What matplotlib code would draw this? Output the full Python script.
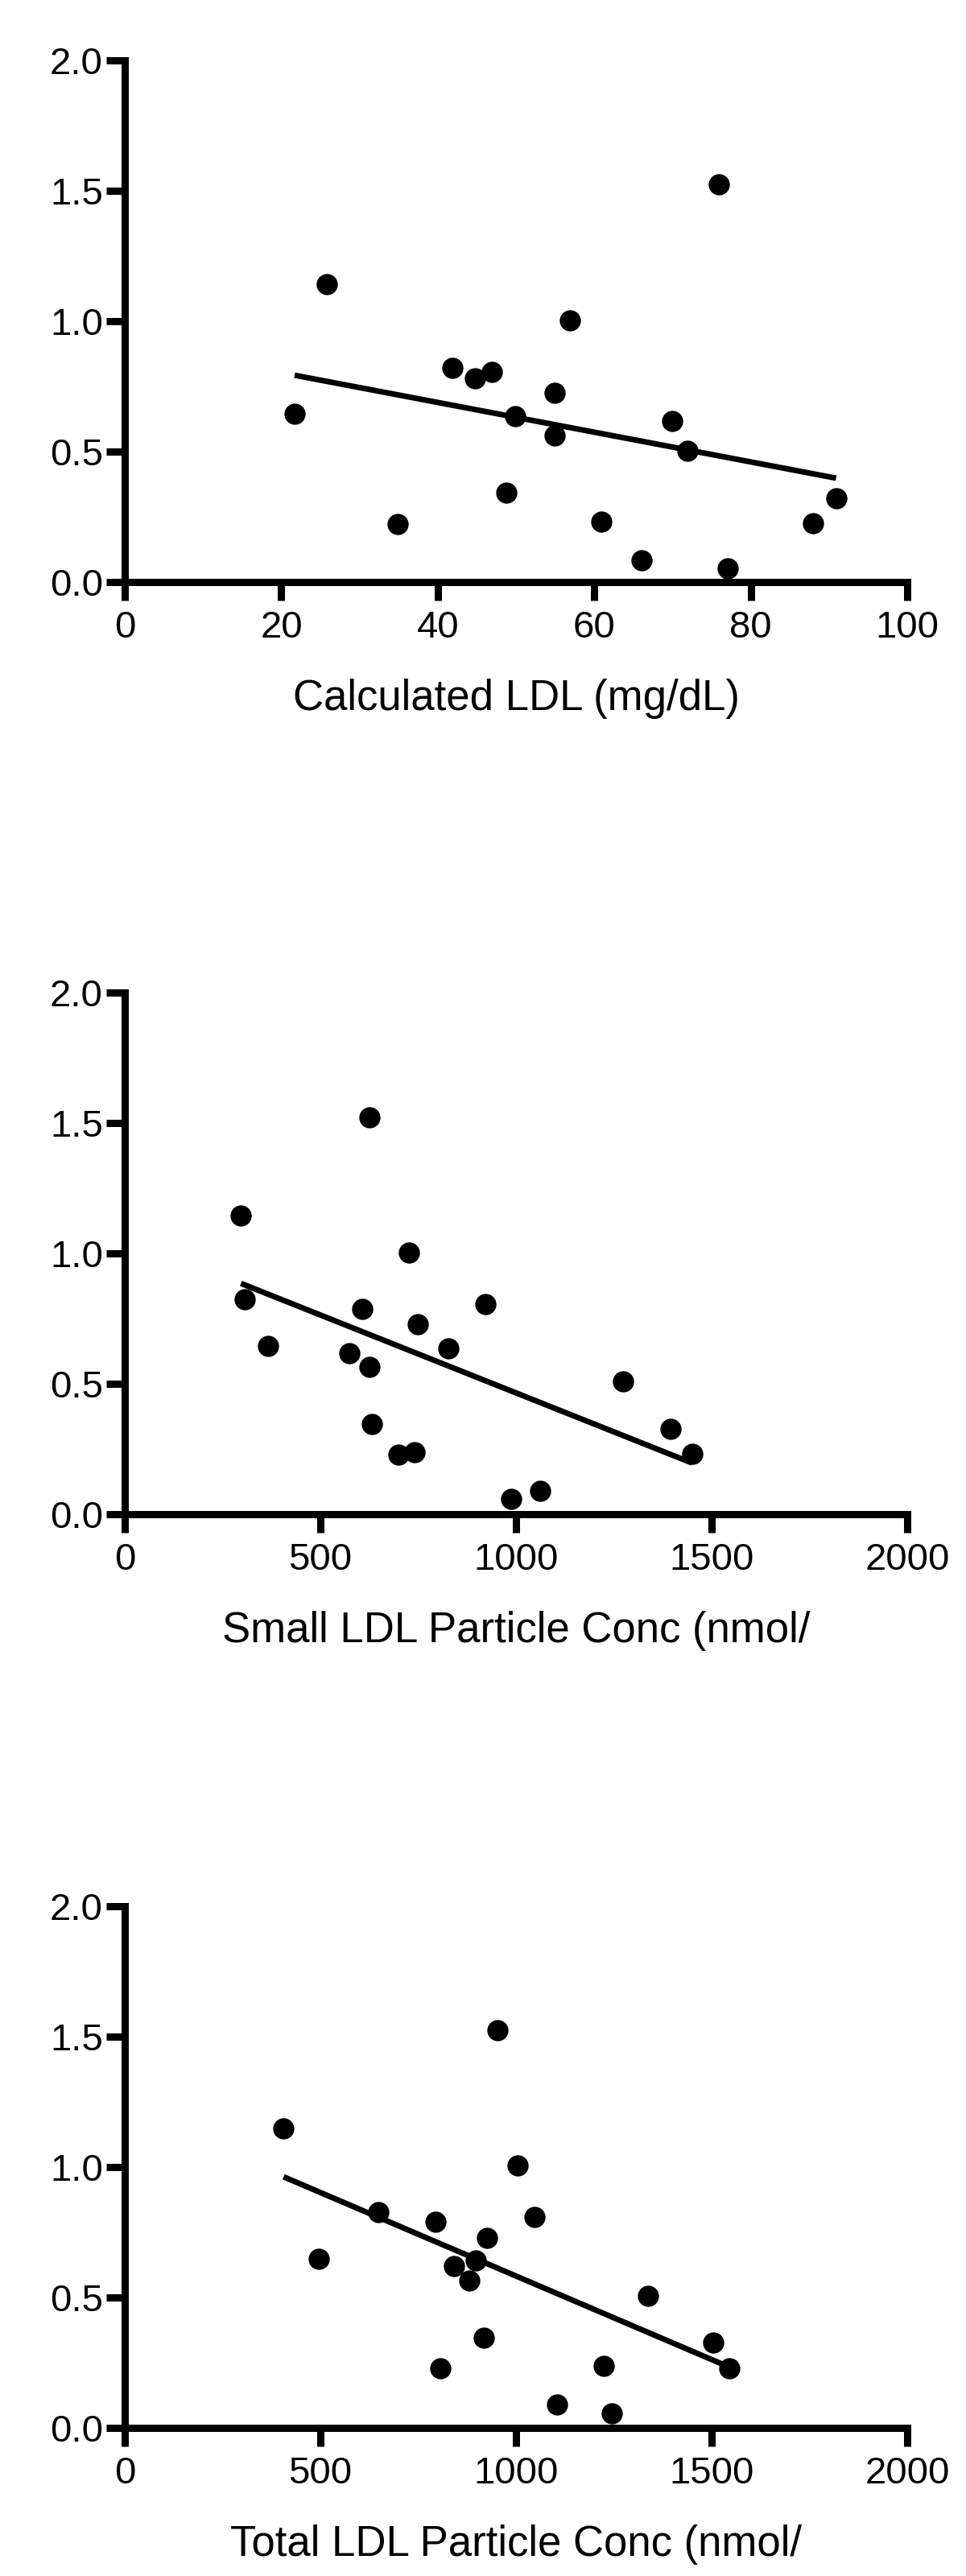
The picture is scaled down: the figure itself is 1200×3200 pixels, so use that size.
import matplotlib
matplotlib.use("Agg")
import matplotlib.pyplot as plt
import numpy as np

plt.rcParams["font.family"] = ["Liberation Sans", "DejaVu Sans"]

# panel 1: calculated LDL
calc_ldl = [21.7, 25.8, 34.9, 41.9, 44.7, 46.9, 48.8, 49.9, 54.9, 54.9,
            56.9, 60.9, 66.0, 70.0, 71.9, 75.9, 77.1, 88.0, 90.9]
calc_y = [0.644, 1.143, 0.222, 0.821, 0.782, 0.804, 0.341, 0.635, 0.724, 0.560,
          1.004, 0.231, 0.084, 0.617, 0.503, 1.524, 0.053, 0.226, 0.320]

# panel 2: small LDL particle concentration
small_ldl = [297, 307, 367, 574, 607, 625, 626, 632, 699, 727,
             741, 749, 827, 922, 988, 1062, 1273, 1394, 1450]
small_y = [1.145, 0.823, 0.646, 0.616, 0.788, 1.522, 0.566, 0.345, 0.227, 1.004,
           0.239, 0.729, 0.637, 0.805, 0.057, 0.088, 0.508, 0.327, 0.230]

# panel 3: total LDL particle concentration
total_ldl = [406, 495, 648, 795, 806, 841, 881, 898, 917, 925,
             953, 1004, 1048, 1105, 1225, 1244, 1338, 1504, 1545]
total_y = [1.147, 0.647, 0.828, 0.791, 0.229, 0.619, 0.566, 0.641, 0.347, 0.729,
           1.526, 1.007, 0.810, 0.088, 0.238, 0.056, 0.506, 0.328, 0.229]

y_ticks = [0.0, 0.5, 1.0, 1.5, 2.0]
panels = [
    (calc_ldl, calc_y, "Calculated LDL (mg/dL)", [0, 20, 40, 60, 80, 100]),
    (small_ldl, small_y, "Small LDL Particle Conc (nmol/", [0, 500, 1000, 1500, 2000]),
    (total_ldl, total_y, "Total LDL Particle Conc (nmol/", [0, 500, 1000, 1500, 2000]),
]
bottoms = [0.7741, 0.4122, 0.0575]

fig = plt.figure(figsize=(12, 32), dpi=100)

for (xs, ys, label, x_ticks), bottom in zip(panels, bottoms):
    ax = fig.add_axes([0.1292, bottom, 0.81, 0.2025])
    xs = np.array(xs, dtype=float)
    ys = np.array(ys, dtype=float)

    ax.scatter(xs, ys, s=360, color="black", linewidths=0, zorder=3, clip_on=False)

    # least-squares line over the range of the data
    slope, intercept = np.polyfit(xs, ys, 1)
    fit_x = np.array([xs.min(), xs.max()])
    ax.plot(fit_x, slope * fit_x + intercept, color="black", lw=5, solid_capstyle="butt")

    ax.set_xlim(x_ticks[0], x_ticks[-1])
    ax.set_ylim(0, 2)
    ax.set_xticks(x_ticks)
    ax.set_yticks(y_ticks)
    ax.set_yticklabels([f"{v:.1f}" for v in y_ticks])

    for side in ("top", "right"):
        ax.spines[side].set_visible(False)
    for side in ("left", "bottom"):
        ax.spines[side].set_linewidth(6.5)
        ax.spines[side].set_capstyle("projecting")

    ax.tick_params(axis="both", direction="out", length=16.5, width=6.5,
                   labelsize=34, colors="black")
    ax.tick_params(axis="x", pad=9)
    ax.tick_params(axis="y", pad=3)

    ax.set_xlabel(label, fontsize=38)
    ax.xaxis.label.set_va("baseline")
    ax.xaxis.set_label_coords(0.5, -0.245)

fig.savefig("out.png", dpi=100, facecolor="white")
